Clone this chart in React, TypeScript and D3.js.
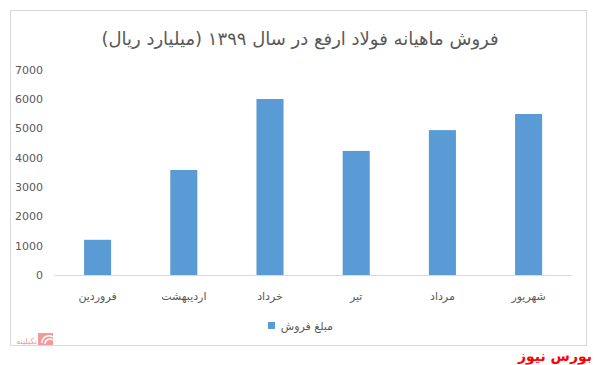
import React from "react";
import * as d3 from "d3";

const categories = ["فروردین", "اردیبهشت", "خرداد", "تیر", "مرداد", "شهریور"];
const salesValues = [1200, 3580, 6000, 4230, 4940, 5490];
const yTicks = [0, 1000, 2000, 3000, 4000, 5000, 6000, 7000];
const titleText = "فروش ماهیانه فولاد ارفع در سال ۱۳۹۹ (میلیارد ریال)";
const seriesName = "مبلغ فروش";
const sourceText = "بورس نیوز";

const W = 596;
const H = 365;

export default function App() {
  const plotLeft = 54.5;
  const plotRight = 571.7;
  const plotTop = 69.7;
  const plotBottom = 275;

  const x = d3.scaleBand<string>().domain(categories).range([plotLeft, plotRight]).paddingInner(0.686).paddingOuter(0.343);
  const y = d3.scaleLinear().domain([0, 7000]).range([plotBottom, plotTop]);

  const font = "'DejaVu Sans', 'Noto Sans', sans-serif";

  return (
    <svg width={W} height={H} style={{ position: "absolute", left: 0, top: 0 }} fontFamily={font}>
      <rect x={0} y={0} width={W} height={H} fill="#fff" />
      <rect x={10.5} y={10.5} width={576} height={335} fill="#fff" stroke="#d9d9d9" strokeWidth={1} />
      <text x={300} y={45} textAnchor="middle" fontSize={18} fill="#595959" direction="rtl">
        {titleText}
      </text>
      {yTicks.map((t) => (
        <text key={t} x={43} y={y(t) + 4} textAnchor="end" fontSize={11} fill="#595959">
          {t}
        </text>
      ))}
      <line x1={plotLeft} x2={plotRight} y1={plotBottom + 0.5} y2={plotBottom + 0.5} stroke="#d9d9d9" strokeWidth={1} />
      {categories.map((c, i) => (
        <rect key={c} x={x(c)} y={y(salesValues[i])} width={x.bandwidth()} height={plotBottom - y(salesValues[i])} fill="#5b9bd5" />
      ))}
      {categories.map((c) => (
        <text key={"l" + c} x={(x(c) as number) + x.bandwidth() / 2} y={300} textAnchor="middle" fontSize={11} fill="#595959" direction="rtl">
          {c}
        </text>
      ))}
      <rect x={268} y={322} width={7} height={7} fill="#5b9bd5" />
      <text x={333} y={330} textAnchor="start" fontSize={11} fill="#595959" direction="rtl">
        {seriesName}
      </text>
      <g opacity={0.55}>
        <rect x={38} y={333} width={15} height={12} fill="#e84a4a" />
        <path d="M42 343 A7 7 0 0 1 53 337" fill="none" stroke="#fff" strokeWidth={1.5} />
        <path d="M45 344 A5 5 0 0 1 53 340" fill="none" stroke="#fff" strokeWidth={1.5} />
        <text x={37} y={344} textAnchor="start" fontSize={8} fill="#e84a4a" direction="rtl">بکیلیته</text>
      </g>
      <text x={592} y={361} textAnchor="start" fontSize={14} fontWeight="bold" fill="#ff0000" direction="rtl">
        {sourceText}
      </text>
    </svg>
  );
}
